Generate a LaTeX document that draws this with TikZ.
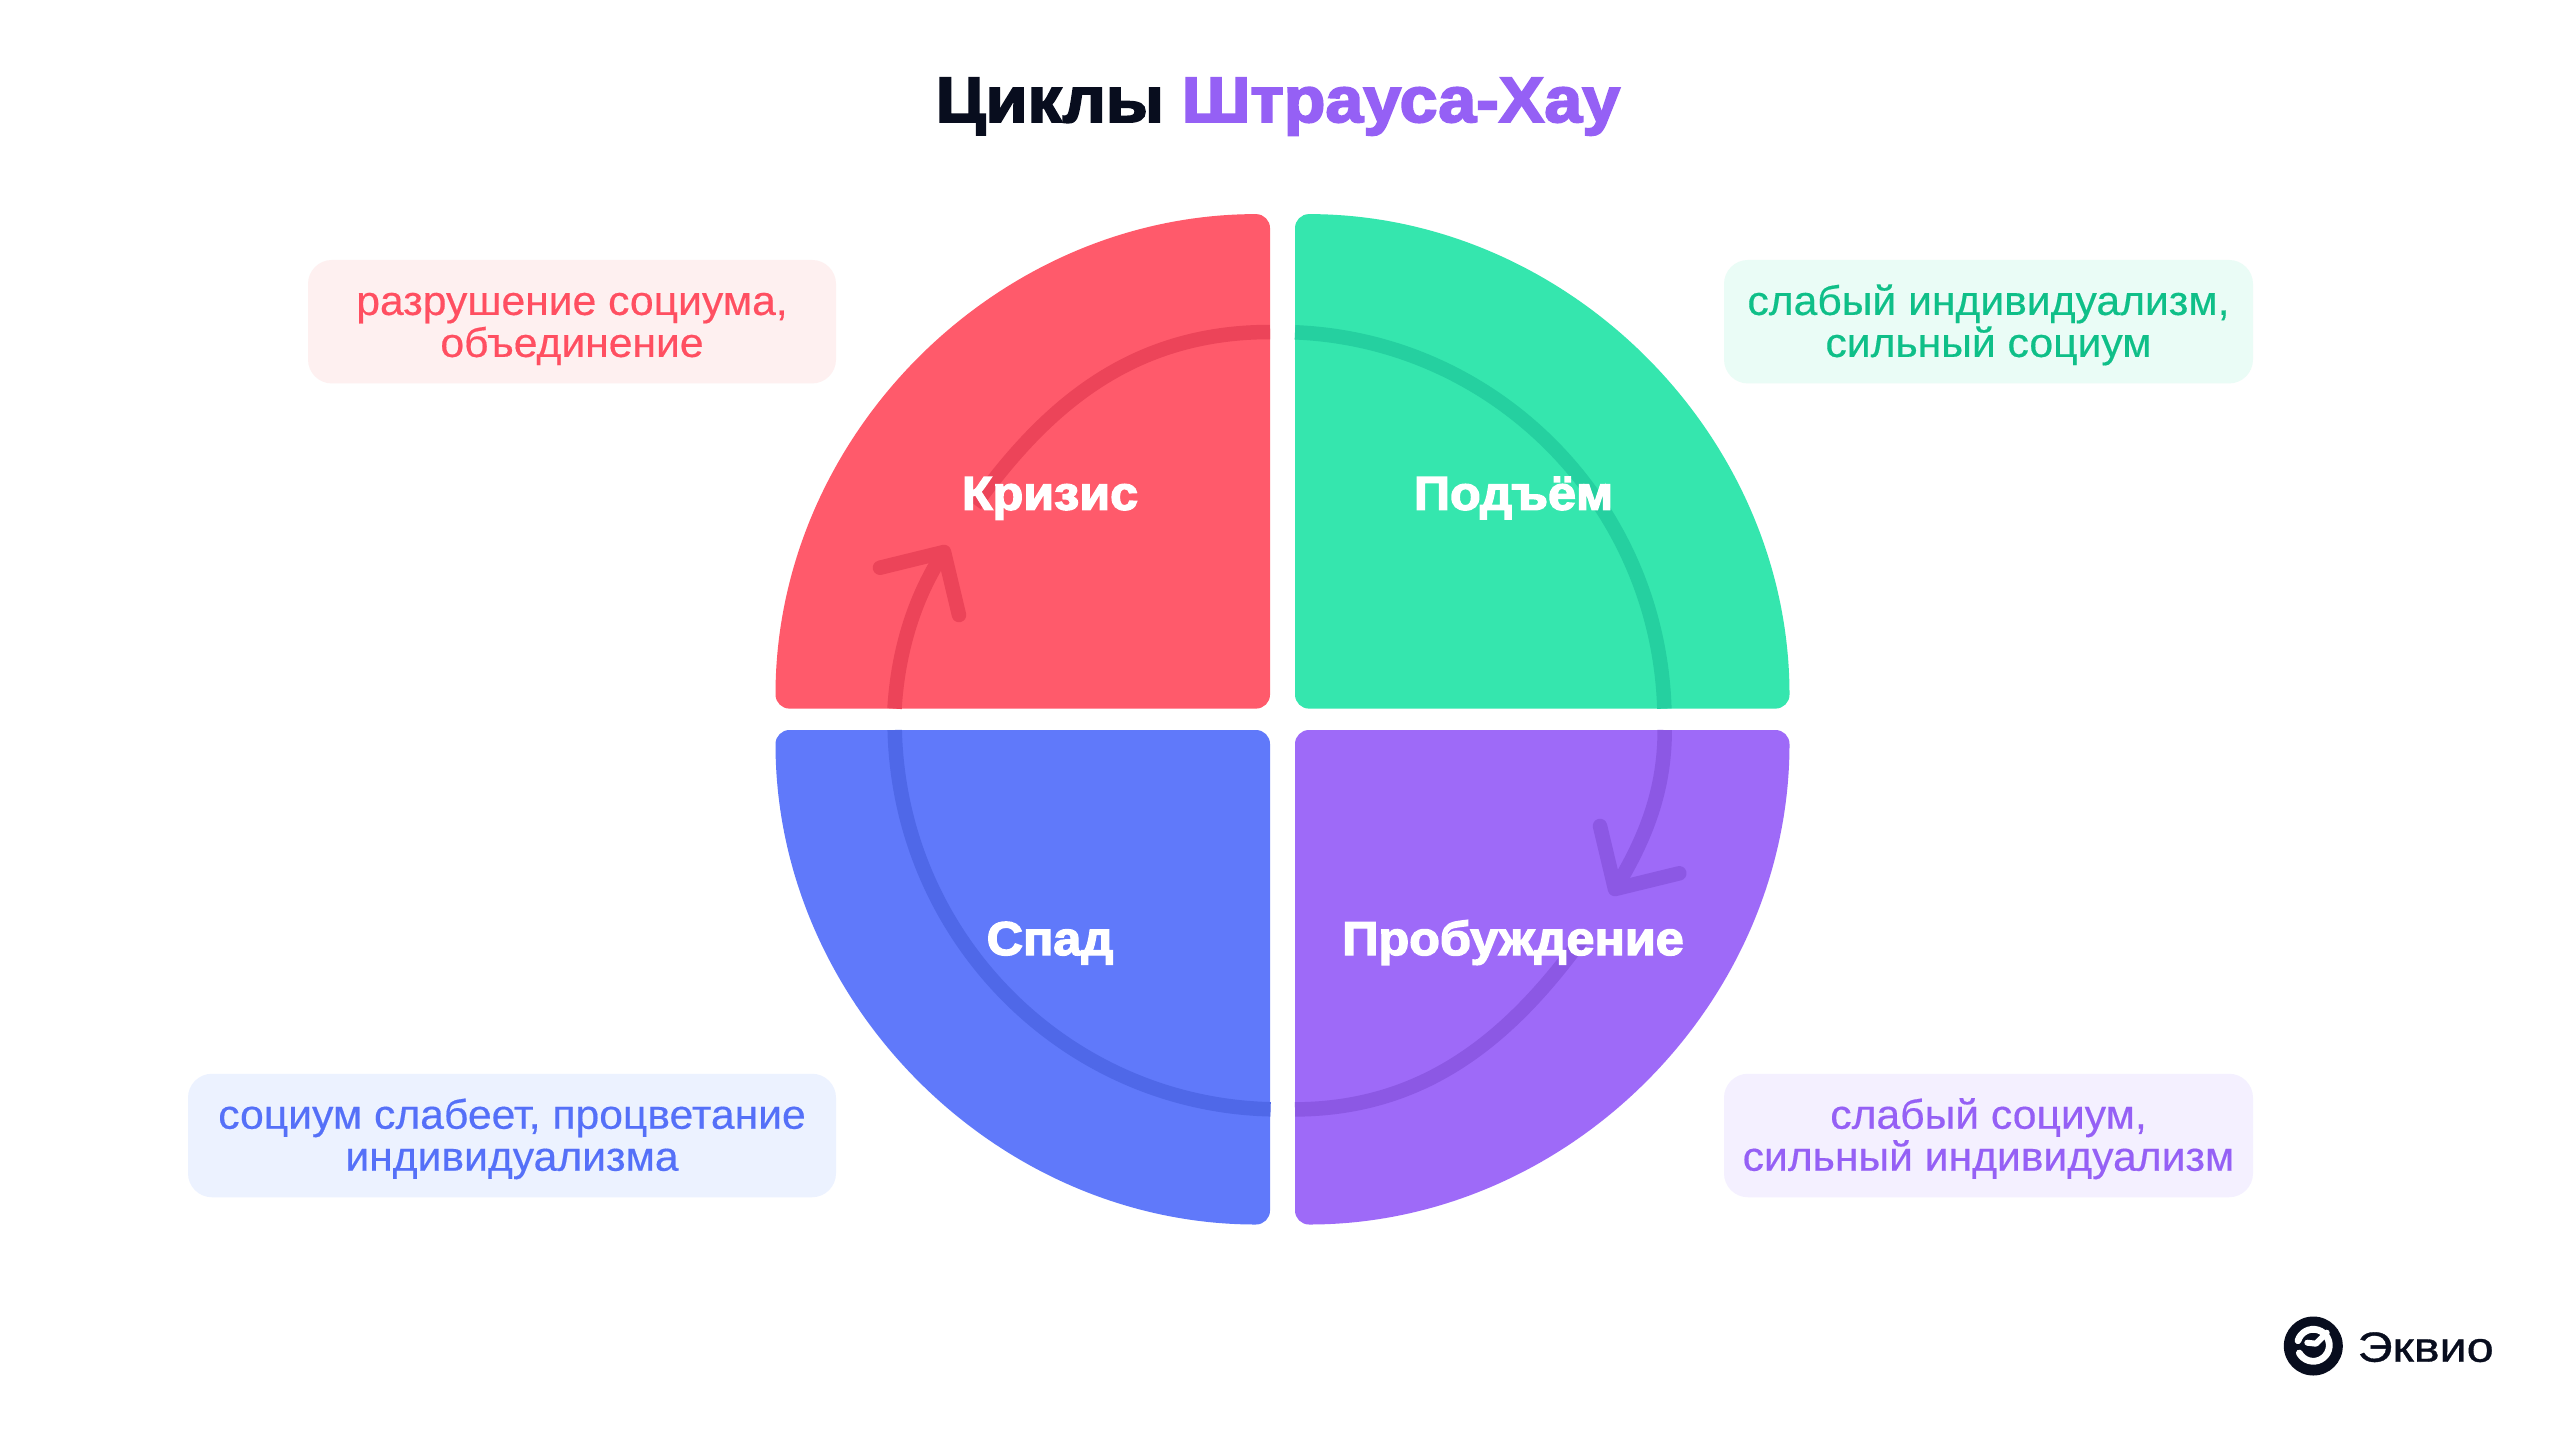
\documentclass[tikz,border=0pt]{standalone}
\usepackage{fontspec}
\usepackage{xcolor}
\usepackage{tikz}
\setmainfont{Liberation Sans}
\newfontfamily\heavyfont{Liberation Sans}[BoldFeatures={FakeBold=3,FakeStretch=1.06}]
\newfontfamily\notefont{Liberation Sans}[FakeBold=0.4,FakeStretch=1.037]
\newfontfamily\logofont{Liberation Sans}[FakeBold=0.8,FakeStretch=1.15]
\definecolor{inkdark}{HTML}{080D1E}
\definecolor{crisisred}{HTML}{FF5A6B}
\definecolor{crisisline}{HTML}{EC4459}
\definecolor{crisistext}{HTML}{FF4F61}
\definecolor{crisisback}{HTML}{FEF0F0}
\definecolor{risegreen}{HTML}{35E6AE}
\definecolor{riseline}{HTML}{25D0A0}
\definecolor{risetext}{HTML}{0FBF88}
\definecolor{riseback}{HTML}{EAFCF6}
\definecolor{fallblue}{HTML}{6079FA}
\definecolor{fallline}{HTML}{4F68E8}
\definecolor{falltext}{HTML}{5570F8}
\definecolor{fallback}{HTML}{ECF2FF}
\definecolor{wakepurple}{HTML}{9E6AF8}
\definecolor{wakeline}{HTML}{8C58E4}
\definecolor{waketext}{HTML}{9560F5}
\definecolor{wakeback}{HTML}{F4F0FF}

\begin{document}
\begin{tikzpicture}[
    quarter/.style={rounded corners=0.14cm},
    ringline/.style={line width=0.145cm},
    barb/.style={line width=0.145cm, line cap=round, line join=round},
    phase/.style={anchor=base, text=white, font=\fontsize{13.5pt}{15pt}\heavyfont\bfseries},
    note/.style={rounded corners=0.24cm, minimum height=1.235cm, inner sep=0pt, align=center,
        font=\fontsize{11.7pt}{11.95pt}\notefont, text height=0.922cm, text depth=0.218cm},
    headline/.style={anchor=base, font=\fontsize{18.3pt}{20pt}\heavyfont\bfseries}
]
    \fill[white] (0,0) rectangle (25.6,-14.4);

    % Title
    \node[headline, text=inkdark] (titleleft) at (10.50,-1.22) {Циклы};
    \node[headline, text=waketext] (titleright) at (14.01,-1.22) {Штрауса-Хау};

    % Quarters
    \fill[crisisred, quarter] (12.70,-7.086) -- (7.755,-7.086) arc (180:90:4.945) -- cycle;
    \fill[risegreen, quarter] (12.95,-7.086) -- (17.895,-7.086) arc (0:90:4.945) -- cycle;
    \fill[fallblue, quarter] (12.70,-7.30) -- (7.755,-7.30) arc (180:270:4.945) -- cycle;
    \fill[wakepurple, quarter] (12.95,-7.30) -- (17.895,-7.30) arc (0:-90:4.945) -- cycle;

    % Ring
    \draw[ringline, crisisline] (12.70,-3.32) .. controls (11.30,-3.32) and (10.45,-4.08) .. (9.75,-5.05);
    \draw[ringline, crisisline] (8.945,-7.086) .. controls (8.98,-6.50) and (9.15,-5.96) .. (9.44,-5.52);
    \draw[ringline, riseline] (12.95,-3.323) arc[start angle=87.7, end angle=1.78, x radius=3.85, y radius=3.887];
    \draw[ringline, fallline] (8.947,-7.30) arc[start angle=181.37, end angle=268.66, x radius=3.85, y radius=3.887];
    \draw[ringline, wakeline] (12.95,-11.094) .. controls (14.29,-11.09) and (15.14,-10.33) .. (15.84,-9.36);
    \draw[ringline, wakeline] (16.647,-7.30) .. controls (16.647,-7.90) and (16.46,-8.38) .. (16.15,-8.89);

    % Arrow heads
    \coordinate (crisistip) at (9.44,-5.52);
    \coordinate (waketip) at (16.15,-8.89);
    \draw[barb, crisisline] (8.80,-5.677) -- (crisistip) -- (9.59,-6.15);
    \draw[barb, wakeline] (16.00,-8.26) -- (waketip) -- (16.793,-8.733);

    % Phase names
    \node[phase] (crisis) at (10.50,-5.097) {Кризис};
    \node[phase] (rise) at (15.135,-5.097) {Подъём};
    \node[phase] (fall) at (10.50,-9.55) {Спад};
    \node[phase] (wake) at (15.13,-9.55) {Пробуждение};

    % Notes
    \node[note, fill=crisisback, text=crisistext, minimum width=5.28cm] (crisisnote) at (5.72,-3.217)
        {разрушение социума,\\объединение};
    \node[note, fill=riseback, text=risetext, minimum width=5.29cm] (risenote) at (19.885,-3.217)
        {слабый индивидуализм,\\сильный социум};
    \node[note, fill=fallback, text=falltext, minimum width=6.48cm] (fallnote) at (5.12,-11.355)
        {социум слабеет, процветание\\индивидуализма};
    \node[note, fill=wakeback, text=waketext, minimum width=5.29cm] (wakenote) at (19.885,-11.355)
        {слабый социум,\\сильный индивидуализм};

    % Logo
    \node[circle, fill=inkdark, minimum size=0.59cm, inner sep=0pt] (logomark) at (23.133,-13.46) {};
    \draw[white, line width=0.068cm, line cap=round] (22.98,-13.406) arc (163:-151:0.16);
    \draw[white, line width=0.06cm, line cap=round, line join=round] (23.073,-13.427) -- (23.16,-13.437) -- (23.267,-13.327);
    \node[anchor=base west, inner sep=0pt, text=inkdark, font=\fontsize{12pt}{14pt}\logofont] (logoname) at (23.57,-13.617) {Эквио};
\end{tikzpicture}
\end{document}
